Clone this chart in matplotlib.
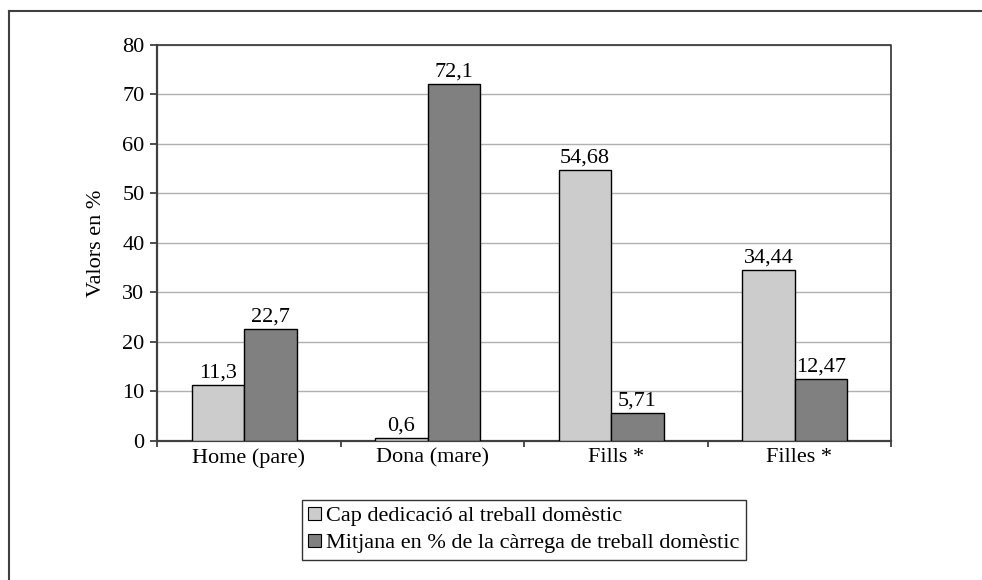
import matplotlib

matplotlib.use("Agg")
import matplotlib.pyplot as plt
import numpy as np
from matplotlib.lines import Line2D
from matplotlib.patches import Patch

# Data
categories = ["Home (pare)", "Dona (mare)", "Fills *", "Filles *"]
cap_dedicacio = [11.3, 0.6, 54.68, 34.44]
mitjana_carrega = [22.7, 72.1, 5.71, 12.47]
series_labels = [
    "Cap dedicació al treball domèstic",
    "Mitjana en % de la càrrega de treball domèstic",
]
y_ticks = [0, 10, 20, 30, 40, 50, 60, 70, 80]

light_grey = "#cccccc"
dark_grey = "#808080"
spine_col = "#404040"
fs = 16

plt.rcParams["font.family"] = ["Liberation Serif", "DejaVu Serif"]
plt.rcParams["font.size"] = fs


def fmt(v):
    return f"{v:g}".replace(".", ",")


fig = plt.figure(figsize=(9.82, 5.80), dpi=100)
ax = fig.add_axes([0.1599, 0.2397, 0.7475, 0.6828])

x = np.arange(len(categories))
width = 0.286
shift = -0.025

bars1 = ax.bar(x + shift - width / 2, cap_dedicacio, width, color=light_grey,
               edgecolor="black", linewidth=1, zorder=3)
bars2 = ax.bar(x + shift + width / 2, mitjana_carrega, width, color=dark_grey,
               edgecolor="black", linewidth=1, zorder=3)

for bars, vals in ((bars1, cap_dedicacio), (bars2, mitjana_carrega)):
    for b, v in zip(bars, vals):
        ax.text(b.get_x() + b.get_width() / 2, v + 0.5, fmt(v),
                ha="center", va="bottom", fontsize=fs, zorder=4)

ax.set_xlim(-0.5, len(categories) - 0.5)
ax.set_ylim(0, 80)
ax.set_yticks(y_ticks)
ax.set_xticks(x)
ax.set_xticklabels(categories)
ax.set_xticks(np.arange(len(categories) + 1) - 0.5, minor=True)
ax.tick_params(axis="x", which="major", length=0, pad=5)
ax.tick_params(axis="x", which="minor", length=4, width=1.3, color=spine_col,
               direction="out")
ax.tick_params(axis="y", length=5, width=1.3, color=spine_col, direction="out",
               pad=4)

ax.yaxis.grid(True, color="#b0b0b0", linewidth=1, zorder=0)
ax.set_axisbelow(True)
for side in ("left", "bottom"):
    ax.spines[side].set_color(spine_col)
    ax.spines[side].set_linewidth(1.6)
ax.spines["top"].set_visible(False)
ax.spines["right"].set_visible(False)
# top and right border of the plot area
ax.plot([0, 1, 1], [1, 1, 0], transform=ax.transAxes, color=spine_col,
        linewidth=1.3, clip_on=False, zorder=5)

ax.set_ylabel("Valors en %", fontsize=fs)
ax.yaxis.set_label_coords(-0.0695, 0.5)

handles = [
    Patch(facecolor=light_grey, edgecolor="black", linewidth=0.8),
    Patch(facecolor=dark_grey, edgecolor="black", linewidth=0.8),
]
leg = fig.legend(handles, series_labels, loc="center",
                 bbox_to_anchor=(0.5336, 0.0862), frameon=True, fancybox=False,
                 handlelength=0.55, handleheight=0.55, handletextpad=0.25,
                 labelspacing=0.35, borderpad=0.3, fontsize=fs)
leg.get_frame().set_edgecolor("black")
leg.get_frame().set_linewidth(1)

# outer border of the figure (left and top visible in the reference)
fx = 8.5 / 982
fy = 1 - 11 / 580
fig.add_artist(Line2D([fx, fx], [0, fy], transform=fig.transFigure,
                      color=spine_col, linewidth=1.5))
fig.add_artist(Line2D([fx, 1], [fy, fy], transform=fig.transFigure,
                      color=spine_col, linewidth=1.5))

fig.savefig("out.png", dpi=100)
